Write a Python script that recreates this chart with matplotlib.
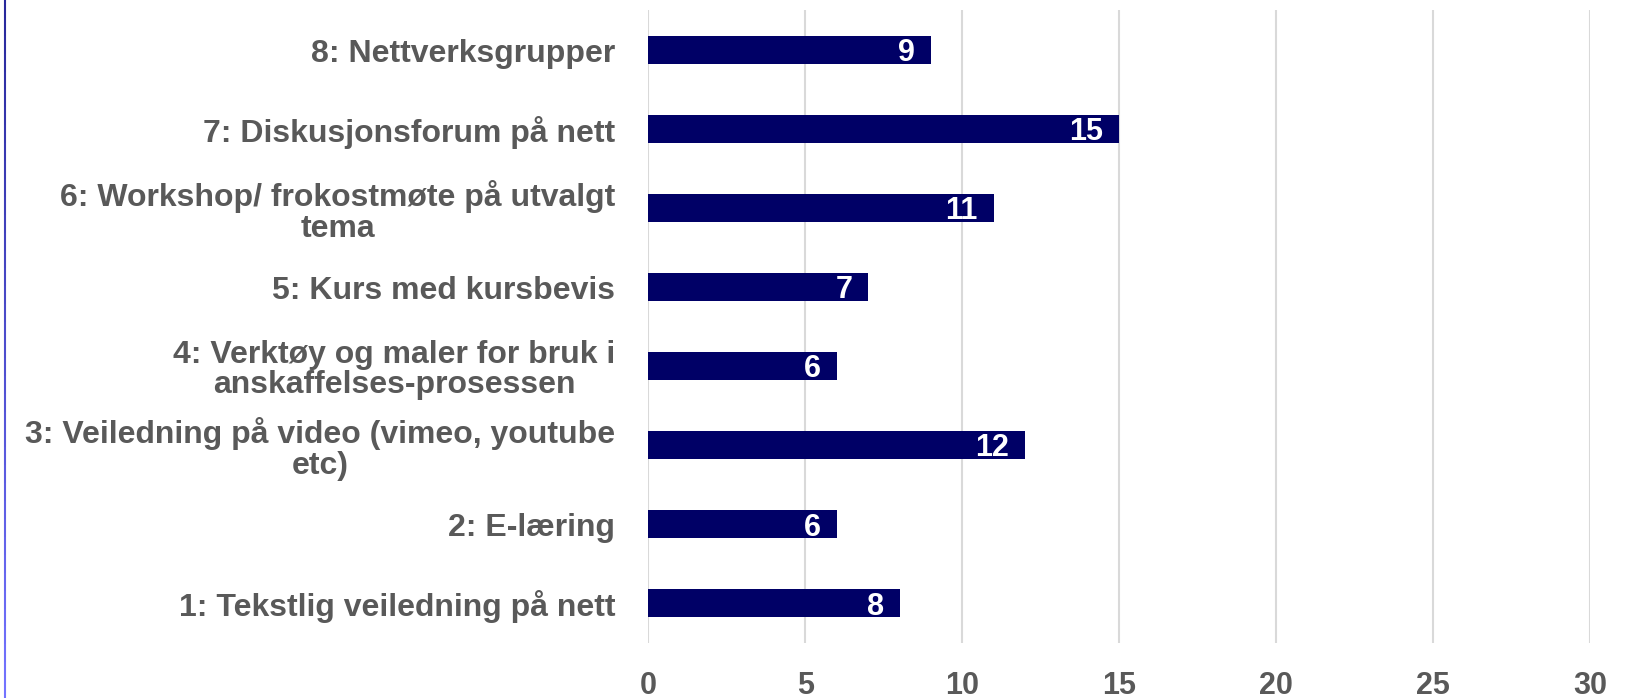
"""
Foretrukne opplæringsformer – antall svar per alternativ (liggende søylediagram).
"""

import matplotlib.pyplot as plt
import numpy as np
from matplotlib.collections import LineCollection

categories = [
    "1: Tekstlig veiledning på nett",
    "2: E-læring",
    "3: Veiledning på video (vimeo, youtube\netc)",
    "4: Verktøy og maler for bruk i\nanskaffelses-prosessen",
    "5: Kurs med kursbevis",
    "6: Workshop/ frokostmøte på utvalgt\ntema",
    "7: Diskusjonsforum på nett",
    "8: Nettverksgrupper",
]
counts = [8, 6, 12, 6, 7, 11, 15, 9]
x_ticks = [0, 5, 10, 15, 20, 25, 30]

BAR_COLOR = "#000066"
TEXT_GRAY = "#595959"
GRID_GRAY = "#d9d9d9"
FONT = ["Liberation Sans", "DejaVu Sans"]


def main() -> None:
    fig = plt.figure(figsize=(16.4, 6.98), dpi=100)
    ax = fig.add_axes([0.3954, 0.0788, 0.9695 - 0.3954, 0.985 - 0.0788])

    y = np.arange(len(categories))
    ax.barh(y, counts, height=0.355, color=BAR_COLOR, zorder=3)

    # value labels sit inside the bar end
    for yi, v in zip(y, counts):
        ax.text(v - 0.5, yi - 0.04, str(v), ha="right", va="center",
                color="white", fontsize=22, fontweight="bold",
                family=FONT, zorder=4)

    ax.set_xlim(0, 30)
    ax.set_ylim(-0.5, len(categories) - 0.5)
    ax.set_xticks(x_ticks)
    ax.set_xticklabels([str(t) for t in x_ticks], fontsize=22, fontweight="bold",
                       color=TEXT_GRAY, family=FONT)
    ax.set_yticks(y)
    ax.set_yticklabels(categories, fontsize=23, fontweight="bold", color=TEXT_GRAY,
                       family=FONT, linespacing=1.02)
    for lbl in ax.get_yticklabels():
        lbl.set_multialignment("center")

    ax.tick_params(axis="x", length=0, pad=20)
    ax.tick_params(axis="y", length=0, pad=24)
    ax.xaxis.grid(True, color=GRID_GRAY, linewidth=1.5, zorder=0)
    ax.yaxis.grid(False)
    for side in ax.spines.values():
        side.set_visible(False)

    # thin blue frame edge on the left of the slide, darker towards the top
    ys = np.linspace(0, 1, 40)
    segs = [[(0.0028, ys[i]), (0.0028, ys[i + 1])] for i in range(len(ys) - 1)]
    light = np.array((0.45, 0.45, 1.0))
    dark = np.array((0.15, 0.15, 0.6))
    cols = [tuple(light * (1 - t) + dark * t) for t in ys[:-1]]
    lc = LineCollection(segs, colors=cols, linewidths=1.5, transform=fig.transFigure)
    fig.add_artist(lc)

    fig.savefig("out.png", dpi=100)
    plt.close(fig)


if __name__ == "__main__":
    main()
